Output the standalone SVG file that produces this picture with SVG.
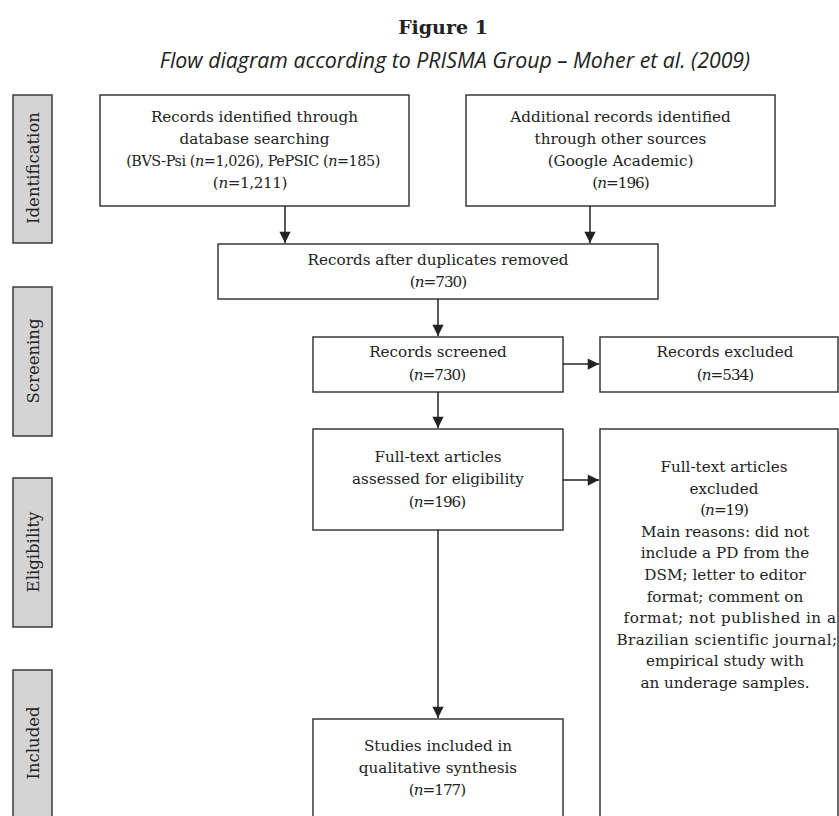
<svg xmlns="http://www.w3.org/2000/svg" width="839" height="816" viewBox="0 0 839 816">
<style>
  .box{fill:#fff;stroke:#3a3a3a;stroke-width:1.5}
  .bar{fill:#d4d4d4;stroke:#3a3a3a;stroke-width:1.5}
  .t{font-family:"DejaVu Serif","Liberation Serif",serif;font-size:15.2px;fill:#222;text-anchor:middle}
  .side{font-family:"DejaVu Serif","Liberation Serif",serif;font-size:16.5px;fill:#222;text-anchor:middle}
  .conn line{stroke:#222;stroke-width:1.5}
  .title{font-family:"DejaVu Serif","Liberation Serif",serif;font-size:19px;font-weight:bold;fill:#222;text-anchor:middle}
  .sub{font-family:"Open Sans","Noto Sans",sans-serif;font-size:21.3px;font-style:italic;fill:#222;text-anchor:middle}
  .i{font-style:italic}
  .n{letter-spacing:-1px}
</style>
<defs>
  <marker id="ah" viewBox="0 0 10 10" refX="10" refY="5" markerWidth="8" markerHeight="7.5" markerUnits="strokeWidth" orient="auto">
    <path d="M0,0 L10,5 L0,10 z" fill="#222"/>
  </marker>
</defs>
<rect width="839" height="816" fill="#fff"/>
<text class="title" x="443" y="34">Figure 1</text>
<text class="sub" x="455" y="68">Flow diagram according to PRISMA Group – Moher et al. (2009)</text>

<g id="phase-identification"><rect class="bar" x="13" y="95" width="39" height="148"/><text class="side" transform="translate(38.5,168) rotate(-90)">Identification</text></g>
<g id="phase-screening"><rect class="bar" x="13" y="287" width="39" height="149"/><text class="side" transform="translate(38.5,361) rotate(-90)">Screening</text></g>
<g id="phase-eligibility"><rect class="bar" x="13" y="478" width="39" height="149"/><text class="side" transform="translate(38.5,552) rotate(-90)">Eligibility</text></g>
<g id="phase-included"><rect class="bar" x="13" y="670" width="39" height="160"/><text class="side" transform="translate(38.5,743) rotate(-90)">Included</text></g>

<g id="records-db"><rect class="box" x="100" y="95" width="309" height="111"/>
<text class="t" x="254.5" y="122">Records identified through</text>
<text class="t" x="254.5" y="144">database searching</text>
<text class="t" x="253" y="166" style="font-size:14.4px;letter-spacing:-0.45px">(BVS-Psi (<tspan class="i">n</tspan>=1,026), PePSIC (<tspan class="i">n</tspan>=185)</text>
<text class="t" x="250" y="188" style="letter-spacing:-0.4px">(<tspan class="i">n</tspan>=1,211)</text></g>

<g id="records-other"><rect class="box" x="466" y="95" width="309" height="111"/>
<text class="t" x="620.5" y="122">Additional records identified</text>
<text class="t" x="620.5" y="144">through other sources</text>
<text class="t" x="620.5" y="166">(Google Academic)</text>
<text class="t n" x="620.5" y="188">(<tspan class="i">n</tspan>=196)</text></g>

<g id="duplicates"><rect class="box" x="218" y="244" width="440" height="55"/>
<text class="t" x="438" y="265">Records after duplicates removed</text>
<text class="t n" x="438" y="287">(<tspan class="i">n</tspan>=730)</text></g>

<g id="screened"><rect class="box" x="313" y="337" width="250" height="55"/>
<text class="t" x="438" y="357">Records screened</text>
<text class="t n" x="437" y="380">(<tspan class="i">n</tspan>=730)</text></g>

<g id="excluded"><rect class="box" x="600" y="337" width="238" height="55"/>
<text class="t" x="725" y="357">Records excluded</text>
<text class="t n" x="725" y="380">(<tspan class="i">n</tspan>=534)</text></g>

<g id="fulltext"><rect class="box" x="313" y="429" width="250" height="101"/>
<text class="t" x="438" y="462">Full-text articles</text>
<text class="t" x="438" y="484">assessed for eligibility</text>
<text class="t n" x="437" y="507">(<tspan class="i">n</tspan>=196)</text></g>

<g id="fulltext-excluded"><rect class="box" x="600" y="429" width="238" height="400"/>
<text class="t" x="724" y="472">Full-text articles</text>
<text class="t" x="724" y="494">excluded</text>
<text class="t n" x="724" y="515">(<tspan class="i">n</tspan>=19)</text>
<text class="t" x="725" y="537">Main reasons: did not</text>
<text class="t" x="725" y="558">include a PD from the</text>
<text class="t" x="725" y="580">DSM; letter to editor</text>
<text class="t" x="725" y="602">format; comment on</text>
<text class="t" x="730" y="623" style="letter-spacing:0.5px">format; not published in a</text>
<text class="t" x="727" y="645" style="letter-spacing:0.45px">Brazilian scientific journal;</text>
<text class="t" x="725" y="666">empirical study with</text>
<text class="t" x="725" y="688">an underage samples.</text></g>

<g id="included"><rect class="box" x="313" y="719" width="250" height="120"/>
<text class="t" x="438" y="751">Studies included in</text>
<text class="t" x="438" y="773">qualitative synthesis</text>
<text class="t n" x="437" y="795">(<tspan class="i">n</tspan>=177)</text></g>

<g id="connectors" class="conn">
<line x1="285" y1="206" x2="285" y2="243" marker-end="url(#ah)"/>
<line x1="590" y1="206" x2="590" y2="243" marker-end="url(#ah)"/>
<line x1="438" y1="299" x2="438" y2="336" marker-end="url(#ah)"/>
<line x1="438" y1="392" x2="438" y2="428" marker-end="url(#ah)"/>
<line x1="563" y1="364" x2="599" y2="364" marker-end="url(#ah)"/>
<line x1="563" y1="480" x2="599" y2="480" marker-end="url(#ah)"/>
<line x1="438" y1="530" x2="438" y2="718" marker-end="url(#ah)"/>
</g>
</svg>
